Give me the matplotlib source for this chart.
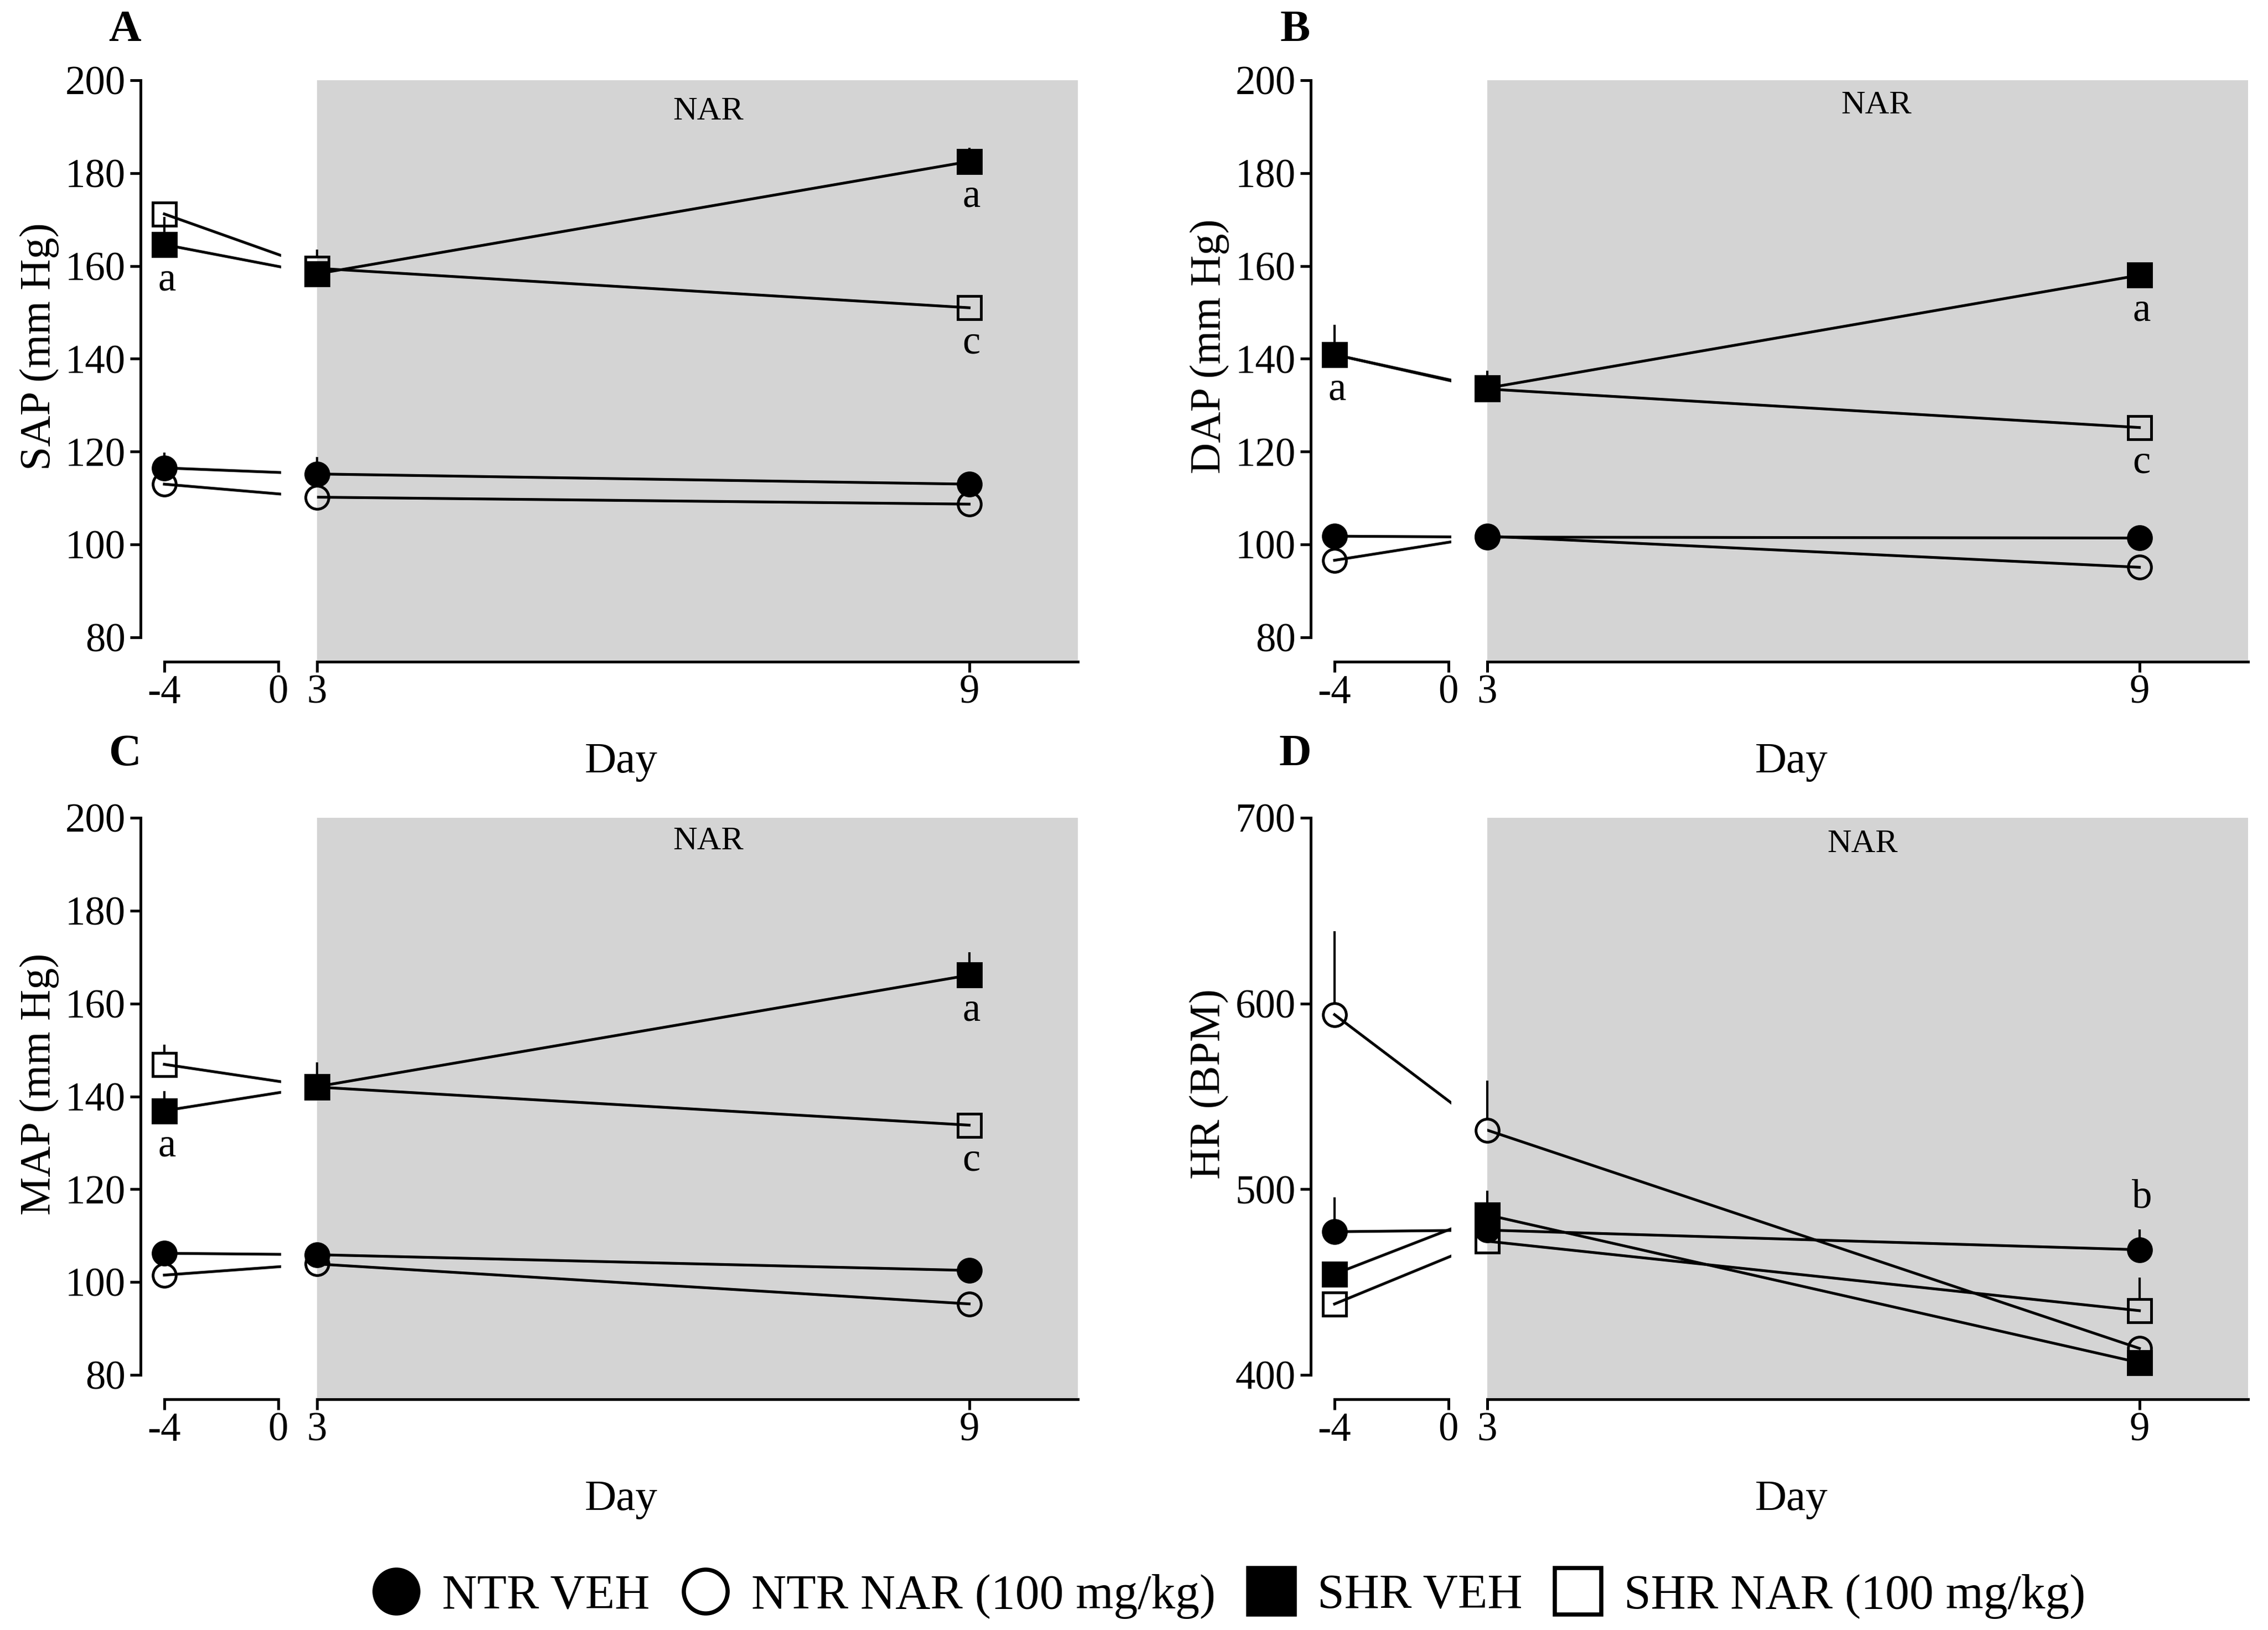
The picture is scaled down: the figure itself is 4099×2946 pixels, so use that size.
import matplotlib
matplotlib.use('Agg')
import matplotlib.pyplot as plt
import matplotlib.transforms as mtransforms
from matplotlib.lines import Line2D

plt.rcParams['font.family'] = ['Liberation Serif', 'DejaVu Serif']
plt.rcParams['axes.unicode_minus'] = False

# ---------------- data ----------------
days = [-4, 3, 9]
groups = ['NTR VEH', 'NTR NAR (100 mg/kg)', 'SHR VEH', 'SHR NAR (100 mg/kg)']
nar_period = (3, 10)

# rows: NTR VEH, NTR NAR, SHR VEH, SHR NAR ; columns: day -4, 3, 9
sap_mean = [[116.5, 115.2, 113.0], [113.0, 110.2, 108.7], [164.6, 158.3, 182.5], [171.2, 159.5, 151.0]]
sap_sem = [[3.3, 3.7, 1.0], [1.0, 1.0, 1.0], [6.0, 2.0, 3.0], [2.0, 4.0, 1.0]]
dap_mean = [[101.8, 101.6, 101.4], [96.6, 101.8, 95.1], [140.9, 133.7, 158.0], [140.9, 133.5, 125.2]]
dap_sem = [[1.0, 1.0, 1.0], [1.0, 1.0, 1.0], [6.4, 3.7, 1.0], [2.0, 2.0, 1.0]]
map_mean = [[106.2, 105.9, 102.5], [101.5, 103.9, 95.3], [136.9, 142.1, 166.1], [146.9, 142.0, 133.8]]
map_sem = [[2.0, 2.0, 1.0], [1.0, 1.0, 1.0], [4.2, 5.2, 5.0], [4.3, 2.0, 1.0]]
hr_mean = [[477.1, 478.0, 467.4], [594.0, 531.8, 414.3], [454.3, 486.2, 406.6], [438.2, 472.0, 434.6]]
hr_sem = [[18.6, 5.0, 11.0], [45.0, 26.6, 5.0], [6.0, 13.0, 3.0], [3.0, 5.0, 17.7]]

panel_letters = ['A', 'B', 'C', 'D']
ylabels = ['SAP (mm Hg)', 'DAP (mm Hg)', 'MAP (mm Hg)', 'HR (BPM)']
yticks_bp = [80, 100, 120, 140, 160, 180, 200]
yticks_hr = [400, 500, 600, 700]
# significance letters: (group index, day index, text, placement)
sig_A = [(2, 0, 'a', 'below'), (2, 2, 'a', 'below'), (3, 2, 'c', 'below')]
sig_B = [(2, 0, 'a', 'below'), (2, 2, 'a', 'below'), (3, 2, 'c', 'below')]
sig_C = [(2, 0, 'a', 'below'), (2, 2, 'a', 'below'), (3, 2, 'c', 'below')]
sig_D = [(0, 2, 'b', 'above')]

panels = [
    (sap_mean, sap_sem, yticks_bp, sig_A),
    (dap_mean, dap_sem, yticks_bp, sig_B),
    (map_mean, map_sem, yticks_bp, sig_C),
    (hr_mean, hr_sem, yticks_hr, sig_D),
]

# ---------------- layout ----------------
W, H = 4099, 2946
DPI = 300
PT = DPI / 72.0
fig = plt.figure(figsize=(W / DPI, H / DPI), dpi=DPI)


def fx(px):
    return px / W


def fy(py):
    return 1 - py / H


# spine x, top (px), bottom (px)
geo = [(254, 145, 1196), (2369, 145, 1196), (254, 1478, 2529), (2369, 1478, 2529)]
letter_y = [54, 54, 1364, 1364]
nar_off = [57, 46, 43, 48]
nar_x = [6.6, 6.58, 6.6, 6.45]

SPW = 1.2
LW = 1.2
ELW = 1.0
MS = 10
MEW = 1.2
styles = [
    dict(marker='o', mfc='black'),
    dict(marker='o', mfc='none'),
    dict(marker='s', mfc='black'),
    dict(marker='s', mfc='none'),
]
GRAY = '#d4d4d4'
FS_TICK = 17.5
FS_LAB = 18.7

for p in range(4):
    means, sems, yt, sigs = panels[p]
    sx, top, bot = geo[p]
    hpx = bot - top
    axL = fig.add_axes([fx(sx), fy(bot), fx(254), hpx / H])
    axR = fig.add_axes([fx(sx + 319), fy(bot), fx(1375), hpx / H])
    y0, y1 = yt[0], yt[-1]
    ymin = y0 - (y1 - y0) * 44.0 / 1007.0
    for ax in (axL, axR):
        ax.set_ylim(ymin, y1)
        ax.set_facecolor('none')
        for s in ('top', 'right'):
            ax.spines[s].set_visible(False)
        for s in ('left', 'bottom'):
            ax.spines[s].set_linewidth(SPW)
        ax.tick_params(axis='both', which='major', direction='out', length=19 / PT,
                       width=SPW, labelsize=FS_TICK, pad=2)
        ax.tick_params(axis='x', which='major', pad=1)
        ax.tick_params(axis='x', which='minor', direction='in', length=11 / PT, width=SPW)
    xlL = (-4.835, 0.1)
    axL.set_xlim(*xlL)
    axL.spines['left'].set_bounds(y0, y1)
    axL.spines['bottom'].set_bounds(-4, 0)
    axL.set_yticks(yt)
    axL.set_xticks([-4, 0])
    axL.set_xticks([0], minor=True)
    axR.set_xlim(nar_period[0], nar_period[1])
    axR.spines['left'].set_visible(False)
    axR.set_yticks([])
    axR.set_xticks([3, 9])
    axR.set_xticks([3], minor=True)
    axR.axvspan(nar_period[0], nar_period[1], color=GRAY, lw=0, zorder=0)

    # day-3 position expressed in left-axes data coordinates (visual continuity across the break)
    gap_px = 319 - 254
    x3L = xlL[1] + gap_px / 254.0 * (xlL[1] - xlL[0])
    px_per_unit = hpx / (y1 - ymin)
    half_ms = (MS / 2.0) * PT / px_per_unit

    for g in range(4):
        v = means[g]
        e = sems[g]
        st = styles[g]
        axL.plot([days[0], x3L], [v[0], v[1]], color='black', lw=LW, zorder=2)
        axR.plot(days[1:], v[1:], color='black', lw=LW, zorder=2)
        axL.plot([days[0]], [v[0]], ls='none', marker=st['marker'], mfc=st['mfc'],
                 mec='black', ms=MS, mew=MEW, zorder=4, clip_on=False)
        axR.plot(days[1:], v[1:], ls='none', marker=st['marker'], mfc=st['mfc'],
                 mec='black', ms=MS, mew=MEW, zorder=4, clip_on=False)
        for i, d in enumerate(days):
            ax = axL if d < 0 else axR
            start = v[i] + half_ms
            end = v[i] + e[i]
            if end > start:
                ax.vlines(d, start, end, color='black', lw=ELW, zorder=3, clip_on=False)

    for (g, i, txt, place) in sigs:
        ax = axL if days[i] < 0 else axR
        off = -82 if place == 'below' else 76
        ax.annotate(txt, (days[i], means[g][i]), xytext=(1, off / PT),
                    textcoords='offset points', ha='center', va='baseline',
                    fontsize=17.5, zorder=5, annotation_clip=False)

    trans = mtransforms.blended_transform_factory(axR.transData, axR.transAxes)
    axR.text(nar_x[p], 1 - nar_off[p] / hpx, 'NAR', transform=trans, ha='center',
             va='center', fontsize=14.5)

    fig.text(fx(sx - 183), fy(top + 481), ylabels[p], rotation=90, ha='center',
             va='center', fontsize=FS_LAB)
    fig.text(fx(sx + 869), fy(bot + 200), 'Day', ha='center', va='baseline', fontsize=19)
    fig.text(fx(sx - 28), fy(letter_y[p]), panel_letters[p], ha='center', va='center',
             fontsize=19.5, fontweight='bold')

# ---------------- legend ----------------
handles = []
for g in range(4):
    st = styles[g]
    handles.append(Line2D([], [], ls='none', marker=st['marker'], mfc=st['mfc'], mec='black',
                          ms=19 if st['marker'] == 'o' else 20, mew=1.8))
fig.legend(handles, groups, ncol=4, loc='center', bbox_to_anchor=(fx(2221), fy(2885)),
           frameon=False, fontsize=21, handlelength=1.0, handletextpad=0.45,
           columnspacing=0.65, borderaxespad=0, borderpad=0)

fig.savefig('out.png', dpi=DPI)
